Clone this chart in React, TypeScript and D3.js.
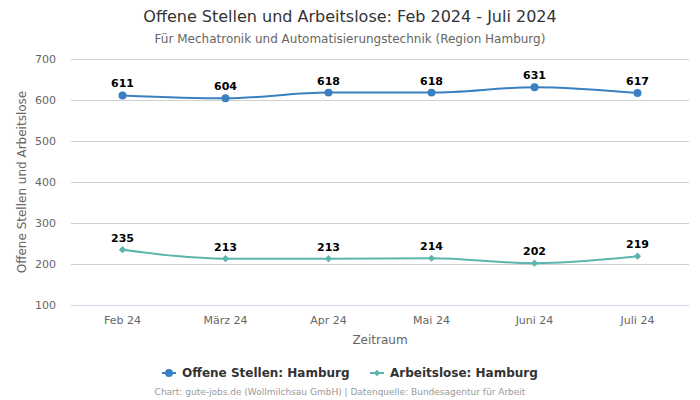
import React, { useEffect, useRef } from 'react';
import * as d3 from 'd3';

const categories = ['Feb 24', 'März 24', 'Apr 24', 'Mai 24', 'Juni 24', 'Juli 24'];
const offeneStellen = [611, 604, 618, 618, 631, 617];
const arbeitslose = [235, 213, 213, 214, 202, 219];
const yTicks = [100, 200, 300, 400, 500, 600, 700];

const FONT = '"DejaVu Sans", sans-serif';

export default function App() {
  const svgRef = useRef<SVGSVGElement>(null);

  useEffect(() => {
    if (!svgRef.current) return;
    const width = 700;
    const height = 400;
    const left = 71;
    const right = 689;
    const top = 59;
    const bottom = 305;

    const svg = d3.select(svgRef.current);
    svg.selectAll('*').remove();

    svg.append('rect').attr('width', width).attr('height', height).attr('fill', '#fff');

    const x = d3.scaleBand<string>().domain(categories).range([left, right]);
    const y = d3.scaleLinear().domain([100, 700]).range([bottom, top]);
    const cx = (c: string) => (x(c) as number) + x.bandwidth() / 2;

    // Titles
    svg.append('text')
      .attr('x', width / 2).attr('y', 22)
      .attr('text-anchor', 'middle')
      .style('font-family', FONT).style('font-size', '16px').style('fill', '#333')
      .text('Offene Stellen und Arbeitslose: Feb 2024 - Juli 2024');
    svg.append('text')
      .attr('x', width / 2).attr('y', 43)
      .attr('text-anchor', 'middle')
      .style('font-family', FONT).style('font-size', '12px').style('fill', '#666')
      .text('Für Mechatronik und Automatisierungstechnik (Region Hamburg)');

    // Grid
    svg.append('g').selectAll('line')
      .data(yTicks.filter(t => t !== 100))
      .join('line')
      .attr('x1', left).attr('x2', right)
      .attr('y1', d => y(d) + 0.5).attr('y2', d => y(d) + 0.5)
      .attr('stroke', '#d0d0d0').attr('stroke-width', 1);
    svg.append('line')
      .attr('x1', left).attr('x2', right)
      .attr('y1', bottom + 0.5).attr('y2', bottom + 0.5)
      .attr('stroke', '#ccd6eb').attr('stroke-width', 1);

    // Y tick labels
    svg.append('g').selectAll('text')
      .data(yTicks)
      .join('text')
      .attr('x', 56).attr('y', d => y(d) + 4)
      .attr('text-anchor', 'end')
      .style('font-family', FONT).style('font-size', '11px').style('fill', '#666')
      .text(d => d);

    // X tick labels
    svg.append('g').selectAll('text')
      .data(categories)
      .join('text')
      .attr('x', d => cx(d)).attr('y', 324)
      .attr('text-anchor', 'middle')
      .style('font-family', FONT).style('font-size', '11px').style('fill', '#666')
      .text(d => d);

    // Axis titles
    svg.append('text')
      .attr('x', (left + right) / 2).attr('y', 344)
      .attr('text-anchor', 'middle')
      .style('font-family', FONT).style('font-size', '12px').style('fill', '#666')
      .text('Zeitraum');
    svg.append('text')
      .attr('transform', `translate(26,${(top + bottom) / 2}) rotate(-90)`)
      .attr('text-anchor', 'middle')
      .style('font-family', FONT).style('font-size', '12px').style('fill', '#666')
      .text('Offene Stellen und Arbeitslose');

    const series = [
      { name: 'Offene Stellen: Hamburg', values: offeneStellen, color: '#3a80c0', marker: 'circle' },
      { name: 'Arbeitslose: Hamburg', values: arbeitslose, color: '#5ab5ad', marker: 'diamond' },
    ];

    const line = d3.line<number>()
      .x((_, i) => cx(categories[i]))
      .y(d => y(d))
      .curve(d3.curveMonotoneX);

    // circle or a square turned 45 degrees
    const markerPath = (marker: string, size: number) =>
      d3.symbol().type(marker === 'circle' ? d3.symbolCircle : d3.symbolSquare).size(size)() as string;
    const markerRot = (marker: string) => (marker === 'circle' ? '' : ' rotate(45)');

    series.forEach(s => {
      const g = svg.append('g');
      g.append('path')
        .attr('d', line(s.values) as string)
        .attr('fill', 'none')
        .attr('stroke', s.color)
        .attr('stroke-width', 2);

      g.selectAll('path.m')
        .data(s.values)
        .join('path')
        .attr('class', 'm')
        .attr('d', markerPath(s.marker, s.marker === 'circle' ? 50 : 26))
        .attr('transform', (d, i) => `translate(${cx(categories[i])},${y(d)})${markerRot(s.marker)}`)
        .attr('fill', s.color);

      g.selectAll('text')
        .data(s.values)
        .join('text')
        .attr('x', (_, i) => cx(categories[i]))
        .attr('y', d => y(d) - 8)
        .attr('text-anchor', 'middle')
        .style('font-family', FONT).style('font-size', '11px').style('font-weight', 'bold')
        .style('fill', '#000')
        .style('paint-order', 'stroke').style('stroke', '#fff').style('stroke-width', '2px')
        .text(d => d);
    });

    // Legend
    const legend = svg.append('g');
    const legendItems = [
      { ...series[0], x: 162 },
      { ...series[1], x: 370 },
    ];
    legendItems.forEach(item => {
      legend.append('line')
        .attr('x1', item.x).attr('x2', item.x + 14)
        .attr('y1', 373).attr('y2', 373)
        .attr('stroke', item.color).attr('stroke-width', 2);
      legend.append('path')
        .attr('d', markerPath(item.marker, item.marker === 'circle' ? 50 : 22))
        .attr('transform', `translate(${item.x + 7},373)${markerRot(item.marker)}`)
        .attr('fill', item.color);
      legend.append('text')
        .attr('x', item.x + 20).attr('y', 377)
        .style('font-family', FONT).style('font-size', '12px').style('font-weight', 'bold')
        .style('fill', '#333')
        .text(item.name);
    });

    svg.append('text')
      .attr('x', 340).attr('y', 395)
      .attr('text-anchor', 'middle')
      .style('font-family', FONT).style('font-size', '9px').style('fill', '#999')
      .text('Chart: gute-jobs.de (Wollmilchsau GmbH) | Datenquelle: Bundesagentur für Arbeit');
  }, []);

  return (
    <div style={{ position: 'absolute', left: 0, top: 0 }}>
      <svg ref={svgRef} width={700} height={400} style={{ display: 'block' }} />
    </div>
  );
}
